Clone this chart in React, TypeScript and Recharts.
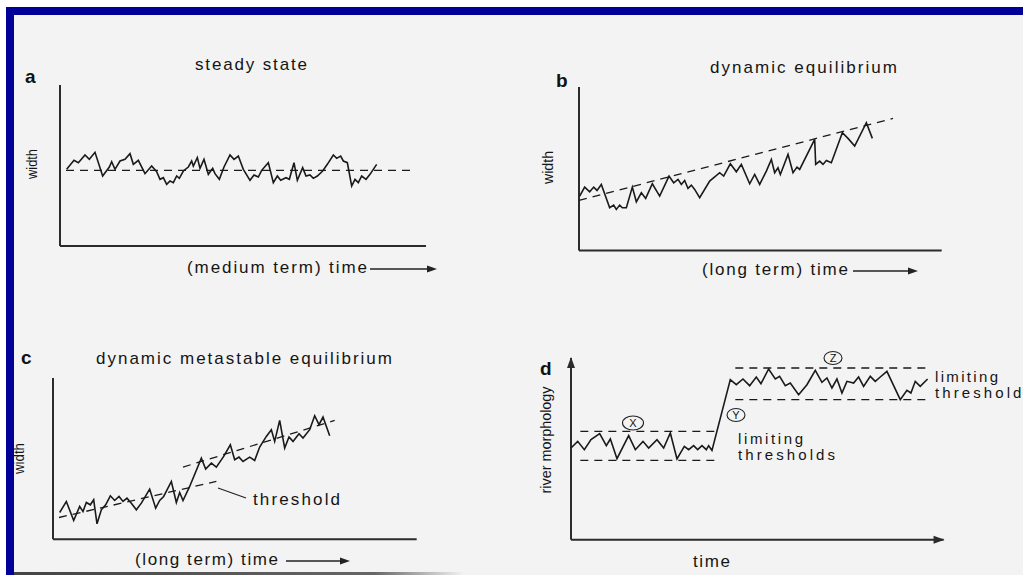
import React from 'react';
import { LineChart, Line, XAxis, YAxis, ReferenceDot, ReferenceLine } from 'recharts';

// ---------- data (time index t, state value v) ----------
const A_T = [2,4.2,5.5,7.5,8.8,10.5,12.8,14.8,15.5,16.5,18,19.5,21,22,23.5,25.5,27.5,29,30,31,32,33,34,35,35.8,37,38.5,39.5,40,41.2,42,43.2,44.5,45.8,46.5,47.8,49.2,51,52.2,53.5,55,57,58.2,59.5,60.5,62.5,64,65.2,66.2,67.8,68.8,70.2,71.2,72.8,73.8,75,76,77.2,78.8,80.2,82,83,84.2,85,86.2,87.5,88.5,89.5,90.5,91.8,93,95];
const A_V = [46,51.4,50,54.6,52,56.2,42,47.4,50.6,46,51,52,55.4,49,51.4,43.4,48,44.6,40,41,37,39,38,42,40.6,45,47.4,51,48,53,46.6,52,43,46.6,43.4,40,47.4,54.6,52,54,46,39.4,42.6,41.4,45.4,50,38,42,39.4,41,40,50,39.4,47,42,42.6,40.6,42,45,49,54.6,52.6,54,51,50,36,40,38,42,40,43,49];
const A_TREND_T = [1.8, 105.5];
const A_TREND_V = [45.4, 45.4];

const B_T = [0.2,1.7,3.2,4.4,5.4,6.7,9.2,10.4,11.2,12.2,13,14.2,16,17.2,18.7,20,22,24.2,27,28.4,29.7,30.7,31.7,32.7,33.7,34.7,36.2,39.2,42.2,43.4,45.4,47.2,48.7,51.2,52.7,54.2,56.2,57.7,58.7,59.7,60.4,62.7,64.2,65.4,66.2,70.7,71,72.2,73.2,74.2,75.7,79,80.7,82.7,86.2,88];
const B_V = [32.6,38,35.2,38,36,39.6,25.6,27.2,24.6,27.2,25.6,25.6,38,29.2,34.6,31.2,40,32.6,44.6,40.6,42.6,39.6,42,37.2,39.2,36.6,31.6,41.6,46.6,44.6,52,47.2,51.6,40,45.6,39.6,47.6,54.6,46.6,49.6,45.6,57.6,46.6,50,48.6,66.6,51.6,53.6,51.6,54,52.6,70.6,67.2,62.6,76.6,67.2];
const B_TREND_T = [0, 94.2];
const B_TREND_V = [30, 79.2];

const C_T = [2,4,6.2,8,9,10,11.2,12.2,13.2,14.5,15.8,17.2,18.5,19.8,21,22.2,23.5,25,26.5,29,30.8,32,33.2,35.5,37,38,39,41,44.5,45.8,47.5,49,51.2,53.2,54.5,55.8,57,59,60.5,62,64,65.5,66.5,68,69.5,70.8,72,73.8,75,77,78.5,79.8,81,83];
const C_V = [16,22.6,11.2,19.6,16.6,22,20.6,23.6,9.2,17.6,20.6,26,23.2,25.6,22.6,24.6,21.6,17.6,21.6,30,18.6,23.2,25.6,34.6,22,28,23.2,31.6,48.6,42,45.6,43.2,49.6,56.6,47.6,49.2,46.6,49.2,47.2,55.2,61.6,65.6,58.6,71.2,54.6,61.2,58.6,63.2,60.6,65.6,74,68.6,73.2,62];
const C_LOW_T = [1.8, 49];
const C_LOW_V = [13, 34.6];
const C_HIGH_T = [39, 84.5];
const C_HIGH_V = [43.2, 71.2];

const D_T = [0,2,4,6,8.6,10.6,11.8,13.8,17.3,19.3,21.6,23.3,25.8,27.8,29.8,31.8,34,35.3,36.8,38,39.3,40.6,41.3,42.3,47.8,49.6,51.6,53.6,55.6,57,59.3,61.3,62.6,64.3,65.8,68.3,70.8,73.3,75.3,76.8,78.3,79.8,81.3,82.8,84.8,86.3,87.8,89.8,91.3,92.8,94.8,98.8,100.8,102,103.3,104.8,107];
const D_V = [55,59,54,60,63.6,56.4,60.4,48.6,62.4,54,59,55,60,55,64,48.4,56,54,56.4,54,56.4,54,56.4,53.6,96,93,96.4,92.4,97.6,93.6,102.4,96.4,98,92.4,94,87,93,101.6,94.4,97,91,96.4,88,95,94,97.6,92,98,95,97.6,101,84,89.6,88,95,92,96.4];
const D_X_LIMIT_T = [2.8, 43.8];
const D_X_UPPER_V = [65, 65];
const D_X_LOWER_V = [47.6, 47.6];
const D_Z_LIMIT_T = [49.3, 107.6];
const D_Z_UPPER_V = [103, 103];
const D_Z_LOWER_V = [84, 84];

const zip = (ts: number[], vs: number[]) => ts.map((t, i) => ({ t, v: vs[i] }));

const INK = '#1a1a1a';
const AXIS = '#2b2b2b';
const FONT = "'Liberation Sans', Arial, Helvetica, sans-serif";

type Series = { data: { t: number; v: number }[]; dashed?: boolean };

type PanelProps = {
  x0: number; y0: number; x1: number; y1: number;
  tMax: number; vMax: number; series: Series[]; arrows?: boolean;
};

const RightArrow = (p: any) => (
  <polygon points={`${p.cx + 1},${p.cy} ${p.cx - 10},${p.cy - 4} ${p.cx - 10},${p.cy + 4}`} fill={AXIS} />
);
const UpArrow = (p: any) => (
  <polygon points={`${p.cx},${p.cy - 1} ${p.cx - 4},${p.cy + 10} ${p.cx + 4},${p.cy + 10}`} fill={AXIS} />
);

function Panel({ x0, y0, x1, y1, tMax, vMax, series, arrows }: PanelProps) {
  const M = 12;
  const w = x1 - x0 + 2 * M;
  const h = y1 - y0 + 2 * M;
  return (
    <div style={{ position: 'absolute', left: x0 - M, top: y0 - M, width: w, height: h }}>
      <LineChart width={w} height={h} margin={{ top: M, right: M, bottom: M, left: M }}>
        <XAxis type="number" dataKey="t" domain={[0, tMax]} hide />
        <YAxis type="number" dataKey="v" domain={[0, vMax]} hide />
        <ReferenceLine segment={[{ x: 0, y: 0 }, { x: tMax, y: 0 }]} stroke={AXIS} strokeWidth={2} ifOverflow="visible" />
        <ReferenceLine segment={[{ x: 0, y: 0 }, { x: 0, y: vMax }]} stroke={AXIS} strokeWidth={2} ifOverflow="visible" />
        {series.map((s, i) => (
          <Line key={i} data={s.data} dataKey="v" type="linear" stroke={INK}
            strokeWidth={s.dashed ? 1.3 : 1.6} strokeDasharray={s.dashed ? '8 6' : undefined}
            dot={false} activeDot={false} isAnimationActive={false} />
        ))}
        {arrows && <ReferenceDot x={tMax} y={0} r={0} ifOverflow="visible" shape={RightArrow} />}
        {arrows && <ReferenceDot x={0} y={vMax} r={0} ifOverflow="visible" shape={UpArrow} />}
      </LineChart>
    </div>
  );
}

const T = (props: any) => (
  <text fontFamily={FONT} fill="#151515" fontSize={17} lengthAdjust="spacing" {...props} />
);

function LabelArrow({ x1, x2, y }: { x1: number; x2: number; y: number }) {
  return (
    <g>
      <line x1={x1} y1={y} x2={x2 - 8} y2={y} stroke="#222" strokeWidth={1.5} />
      <polygon points={`${x2},${y} ${x2 - 10},${y - 3.5} ${x2 - 10},${y + 3.5}`} fill="#222" />
    </g>
  );
}

export default function App() {
  return (
    <div style={{ position: 'absolute', left: 0, top: 0, width: 1023, height: 575, background: '#f3f3f3', overflow: 'hidden' }}>
      <Panel x0={60} y0={85} x1={426} y1={246} tMax={109.8} vMax={96.6}
        series={[{ data: zip(A_T, A_V) }, { data: zip(A_TREND_T, A_TREND_V), dashed: true }]} />
      <Panel x0={579.3} y0={87} x1={942} y1={250.5} tMax={108.8} vMax={98}
        series={[{ data: zip(B_T, B_V) }, { data: zip(B_TREND_T, B_TREND_V), dashed: true }]} />
      <Panel x0={53.3} y0={378.3} x1={417} y1={539.5} tMax={109.1} vMax={96.6}
        series={[
          { data: zip(C_T, C_V) },
          { data: zip(C_LOW_T, C_LOW_V), dashed: true },
          { data: zip(C_HIGH_T, C_HIGH_V), dashed: true },
        ]} />
      <Panel x0={570.7} y0={358.3} x1={943.3} y1={540} tMax={111.8} vMax={109} arrows
        series={[
          { data: zip(D_T, D_V) },
          { data: zip(D_X_LIMIT_T, D_X_UPPER_V), dashed: true },
          { data: zip(D_X_LIMIT_T, D_X_LOWER_V), dashed: true },
          { data: zip(D_Z_LIMIT_T, D_Z_UPPER_V), dashed: true },
          { data: zip(D_Z_LIMIT_T, D_Z_LOWER_V), dashed: true },
        ]} />

      <svg width={1023} height={575} style={{ position: 'absolute', left: 0, top: 0, pointerEvents: 'none' }}>
        {/* panel letters */}
        <T x={25} y={83} fontSize={19} fontWeight="bold" fill="#111">a</T>
        <T x={556} y={87} fontSize={19} fontWeight="bold" fill="#111">b</T>
        <T x={21} y={364} fontSize={19} fontWeight="bold" fill="#111">c</T>
        <T x={540} y={375} fontSize={19} fontWeight="bold" fill="#111">d</T>

        {/* titles */}
        <T x={195} y={70} textLength={112}>steady state</T>
        <T x={710} y={73} textLength={187}>dynamic equilibrium</T>
        <T x={96} y={364} textLength={296}>dynamic metastable equilibrium</T>

        {/* y labels */}
        <T x={37} y={164} fontSize={15} textAnchor="middle" textLength={30} lengthAdjust="spacingAndGlyphs" transform="rotate(-90 37 164)">width</T>
        <T x={553} y={167.5} fontSize={15} textAnchor="middle" textLength={33} lengthAdjust="spacingAndGlyphs" transform="rotate(-90 553 167.5)">width</T>
        <T x={24} y={458.5} fontSize={15} textAnchor="middle" textLength={31} lengthAdjust="spacingAndGlyphs" transform="rotate(-90 24 458.5)">width</T>
        <T x={551} y={440} fontSize={15} textAnchor="middle" textLength={107} lengthAdjust="spacingAndGlyphs" transform="rotate(-90 551 440)">river morphology</T>

        {/* x labels */}
        <T x={187} y={273} textLength={180}>(medium term) time</T>
        <LabelArrow x1={370} x2={437} y={269} />
        <T x={702} y={275} textLength={146}>(long term) time</T>
        <LabelArrow x1={853} x2={918} y={271} />
        <T x={135} y={565} textLength={143}>(long term) time</T>
        <LabelArrow x1={286} x2={350} y={561} />
        <T x={693} y={567} textLength={37}>time</T>

        {/* annotations panel c */}
        <line x1={218} y1={488} x2={246} y2={498} stroke="#222" strokeWidth={1.2} />
        <T x={253} y={505} textLength={87}>threshold</T>

        {/* annotations panel d */}
        <T x={738} y={444} fontSize={15} textLength={65}>limiting</T>
        <T x={738} y={460} fontSize={15} textLength={97}>thresholds</T>
        <T x={935} y={382} fontSize={15} textLength={63}>limiting</T>
        <T x={935} y={398} fontSize={15} textLength={97}>thresholds</T>
        <ellipse cx={633} cy={423} rx={10.5} ry={7} fill="none" stroke="#222" strokeWidth={1.1} />
        <T x={633} y={427} fontSize={11} textAnchor="middle">X</T>
        <ellipse cx={736} cy={415} rx={9} ry={6.5} fill="none" stroke="#222" strokeWidth={1.1} />
        <T x={736} y={419} fontSize={11} textAnchor="middle">Y</T>
        <ellipse cx={833} cy={358} rx={9} ry={6.5} fill="none" stroke="#222" strokeWidth={1.1} />
        <T x={833} y={362} fontSize={11} textAnchor="middle">Z</T>

        {/* frame */}
        <rect x={0} y={0} width={1023} height={7} fill="#ffffff" />
        <rect x={0} y={0} width={6} height={575} fill="#ffffff" />
        <rect x={6} y={7} width={1017} height={8} fill="#000099" />
        <rect x={6} y={7} width={8} height={568} fill="#000099" />
        <defs>
          <linearGradient id="fade" x1="0" x2="1" y1="0" y2="0">
            <stop offset="0" stopColor="#444" />
            <stop offset="0.8" stopColor="#666" />
            <stop offset="1" stopColor="#666" stopOpacity="0" />
          </linearGradient>
        </defs>
        <rect x={14} y={572} width={450} height={3} fill="url(#fade)" />
      </svg>
    </div>
  );
}
